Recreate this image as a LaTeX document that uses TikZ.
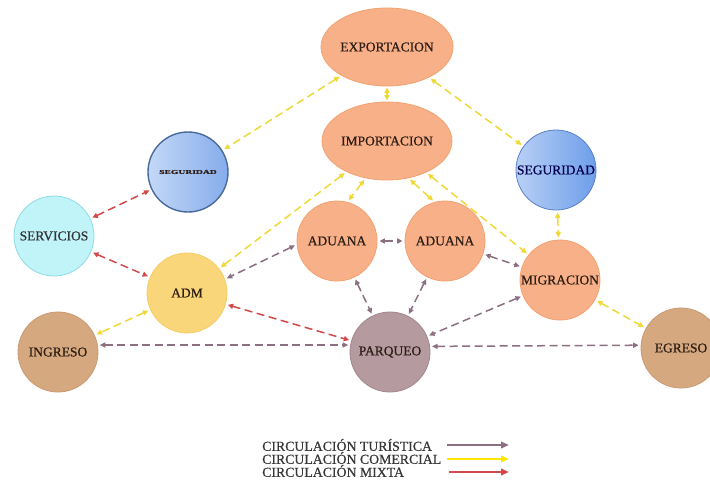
\documentclass[tikz,border=0pt]{standalone}
\usepackage{fontspec}
\setmainfont{Liberation Serif}
\newfontfamily\heavyserif[FakeBold=0.6]{Liberation Serif}
\usepackage{graphicx}
\usetikzlibrary{arrows.meta,shapes.geometric}
\definecolor{peach}{HTML}{F8B088}
\definecolor{peachb}{HTML}{F2A272}
\definecolor{admy}{HTML}{FAD67A}
\definecolor{admb}{HTML}{F6CC66}
\definecolor{tanc}{HTML}{D6A880}
\definecolor{tanb}{HTML}{C99A72}
\definecolor{mauvec}{HTML}{B59A9F}
\definecolor{mauveb}{HTML}{A3878E}
\definecolor{cyanc}{HTML}{C0F4F8}
\definecolor{cyanb}{HTML}{8FDCE4}
\definecolor{bluel}{HTML}{C4D8F7}
\definecolor{bluer}{HTML}{86ACEC}
\definecolor{blueb}{HTML}{4A6A9A}
\definecolor{blue2l}{HTML}{B8D0F5}
\definecolor{blue2r}{HTML}{6E9EEA}
\definecolor{blue2b}{HTML}{5A80C8}
\definecolor{txt}{HTML}{2E1E14}
\definecolor{ycon}{HTML}{F0D838}
\definecolor{rcon}{HTML}{D34848}
\definecolor{mcon}{HTML}{8C7082}
\definecolor{legtxt}{HTML}{383838}
\begin{document}
\begin{tikzpicture}[x=1pt,y=-1pt,
  >={Triangle[length=5.5pt,width=5pt]},
  nd/.style={circle, minimum size=80pt, inner sep=0pt, line width=0.8pt,
    font=\heavyserif\fontsize{13.5}{14}\selectfont, text=txt},
  orn/.style={nd, fill=peach, draw=peachb},
  ell/.style={ellipse, minimum width=104pt, minimum height=78pt, inner sep=0pt,
    line width=0.8pt, fill=peach, draw=peachb, font=\heavyserif\fontsize{13.5}{14}\selectfont, text=txt},
  yel/.style={nd, fill=admy, draw=admb},
  tann/.style={nd, fill=tanc, draw=tanb},
  mauven/.style={nd, fill=mauvec, draw=mauveb},
  cyann/.style={nd, fill=cyanc, draw=cyanb, text=black!75!cyan!40!black},
  bluea/.style={nd, left color=bluel, right color=bluer, draw=blueb, line width=1.4pt},
  blueb2/.style={nd, left color=blue2l, right color=blue2r, draw=blue2b, text=blue!30!black},
  con/.style={<->, dash pattern=on 8pt off 4.5pt, line width=1.5pt, shorten >=2pt, shorten <=2pt},
  ycn/.style={con, draw=ycon},
  rcn/.style={con, draw=rcon},
  mcn/.style={con, draw=mcon},
  legt/.style={anchor=west, inner sep=0pt, font=\heavyserif\fontsize{13.8}{14}\selectfont, text=legtxt},
  lega/.style={-{Triangle[length=8pt,width=6.5pt]}, line width=2pt}
]
\useasboundingbox (0,0) rectangle (710,490);
\clip (0,0) rectangle (710,490);
\fill[white] (0,0) rectangle (710,490);

% nodes
\node[ell] (exp) at (387,47) {EXPORTACION};
\node[ell] (imp) at (387,141) {IMPORTACION};
\node[bluea] (segl) at (188,172) {\scalebox{1.6}[1]{\fontsize{6}{7}\selectfont\bfseries SEGURIDAD}};
\node[blueb2] (segr) at (556,170) {SEGURIDAD};
\node[cyann] (serv) at (54,236) {SERVICIOS};
\node[yel] (adm) at (187,293) {ADM};
\node[tann] (ing) at (58,352) {INGRESO};
\node[orn] (adl) at (337,241) {ADUANA};
\node[orn] (adr) at (445,241) {ADUANA};
\node[orn] (mig) at (560,280) {MIGRACION};
\node[mauven] (par) at (390,352) {PARQUEO};
\node[tann] (egr) at (681,348) {EGRESO};

% commercial (yellow)
\draw[ycn] (exp) -- (segl);
\draw[ycn] (exp) -- (segr);
\draw[ycn, shorten >=1pt, shorten <=1pt] (exp) -- (imp);
\draw[ycn] (imp) -- (adm);
\draw[ycn] (imp.240) -- (adl.75);
\draw[ycn] (imp.300) -- (adr.105);
\draw[ycn] (imp) -- (mig);
\draw[ycn] (segr) -- (mig);
\draw[ycn] (adm) -- (ing);
\draw[ycn] (mig) -- (egr);

% mixed (red)
\draw[rcn] (serv) -- (segl);
\draw[rcn] (serv) -- (adm);
\draw[rcn] (adm) -- (par);

% tourist (mauve)
\draw[mcn] (adl.185) -- (adm.20);
\draw[mcn] (adl) -- (adr);
\draw[mcn] (adl) -- (par);
\draw[mcn] (adr) -- (par);
\draw[mcn] (adr) -- (mig);
\draw[mcn] (mig) -- (par);
\draw[mcn] (ing.10) -- (par.170);
\draw[mcn] (par.8) -- (egr.176);

% legend
\node[legt] (l1) at (262,445) {CIRCULACIÓN TURÍSTICA};
\node[legt] (l2) at (262,458) {CIRCULACIÓN COMERCIAL};
\node[legt] (l3) at (262,471) {CIRCULACIÓN MIXTA};
\coordinate (a1s) at (447,445); \coordinate (a1e) at (509,445);
\coordinate (a2s) at (447,459); \coordinate (a2e) at (509,459);
\coordinate (a3s) at (449,472); \coordinate (a3e) at (509,472);
\draw[lega, draw=mcon, fill=violet!60!mcon] (a1s) -- (a1e);
\draw[lega, draw=yellow!90!orange, fill=yellow!90!orange] (a2s) -- (a2e);
\draw[lega, draw=rcon, fill=rcon] (a3s) -- (a3e);
\end{tikzpicture}
\end{document}
